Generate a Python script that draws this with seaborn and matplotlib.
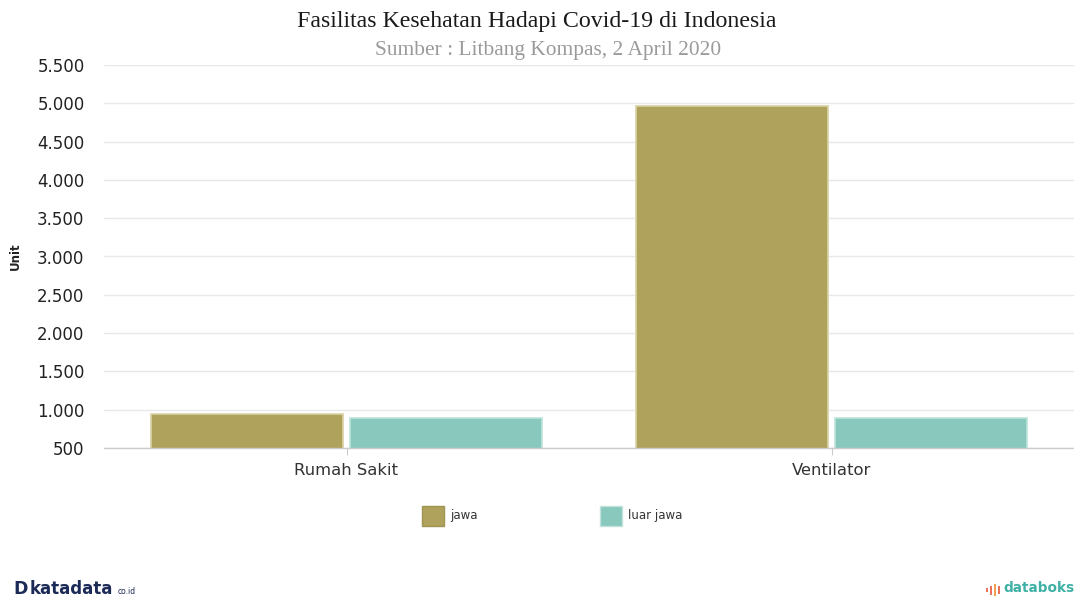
import matplotlib
matplotlib.use("Agg")
import matplotlib.pyplot as plt
import seaborn as sns
import pandas as pd
from matplotlib.patches import Rectangle

# Data
categories = ["Rumah Sakit", "Ventilator"]
series_names = ["jawa", "luar jawa"]
jawa = [945, 4960]
luar_jawa = [895, 895]
y_ticks = [500, 1000, 1500, 2000, 2500, 3000, 3500, 4000, 4500, 5000, 5500]

colors = {"jawa": "#AFA25C", "luar jawa": "#89C8BC"}
edges = {"jawa": "#D9D1A4", "luar jawa": "#BFE3DB"}

df = pd.DataFrame({
    "kategori": categories * 2,
    "seri": [series_names[0]] * 2 + [series_names[1]] * 2,
    "nilai": jawa + luar_jawa,
})

sns.set_theme(style="white")
plt.rcParams["font.family"] = ["DejaVu Sans"]

fig = plt.figure(figsize=(10.74, 5.98), dpi=100)
ax = fig.add_axes([104 / 1074, 1 - 448 / 598, 970 / 1074, (448 - 65) / 598])

sns.barplot(data=df, x="kategori", y="nilai", hue="seri", order=categories,
            hue_order=series_names, palette=colors, width=0.82, gap=0.035,
            saturation=1, legend=False, ax=ax, bottom=0)

for patch, s in zip(ax.patches, [series_names[0]] * 2 + [series_names[1]] * 2):
    patch.set_edgecolor(edges[s])
    patch.set_linewidth(1.2)

ax.set_ylim(500, 5500)
ax.set_xlim(-0.5, 1.5)
ax.set_yticks(y_ticks)
ax.set_yticklabels([f"{v:,}".replace(",", ".") for v in y_ticks], fontsize=12, color="#222222")
ax.tick_params(axis="y", length=0, pad=14)
ax.tick_params(axis="x", length=5, width=0.8, color="#cccccc", labelsize=11.8,
               labelcolor="#333333", pad=6, bottom=True)
ax.set_xlabel("")
ax.set_ylabel("Unit", fontsize=8.5, fontweight="bold", color="#222222")
ax.yaxis.set_label_coords(-0.085, 0.5)

ax.grid(axis="y", color="#e8e8e8", linewidth=1)
ax.set_axisbelow(True)
for side in ["top", "right", "left"]:
    ax.spines[side].set_visible(False)
ax.spines["bottom"].set_color("#cccccc")
ax.spines["bottom"].set_linewidth(1)

# Title and subtitle
fig.text(537 / 1074, 1 - 22 / 598, "Fasilitas Kesehatan Hadapi Covid-19 di Indonesia",
         ha="center", va="center", fontsize=17.2, family="Liberation Serif", color="#1a1a1a")
fig.text(548 / 1074, 1 - 51 / 598, "Sumber : Litbang Kompas, 2 April 2020",
         ha="center", va="center", fontsize=15.4, family="Liberation Serif", color="#9a9a9a")

# Legend
lx = [422, 600]
for x0, s in zip(lx, series_names):
    fig.patches.append(Rectangle((x0 / 1074, 1 - 526 / 598), 22 / 1074, 20 / 598,
                                 transform=fig.transFigure, facecolor=colors[s],
                                 edgecolor=edges[s] if s == "luar jawa" else "#A09550",
                                 linewidth=1))
    fig.text((x0 + 28) / 1074, 1 - 516 / 598, s, ha="left", va="center",
             fontsize=8.5, color="#333333")

# Footer marks
fig.text(13 / 1074, 1 - 589 / 598, "D", ha="left", va="center", fontsize=12.5,
         fontweight="bold", color="#1B2A56")
fig.text(30 / 1074, 1 - 589 / 598, "katadata", ha="left", va="center", fontsize=12,
         fontweight="bold", color="#1B2A56")
fig.text(118 / 1074, 1 - 592 / 598, "co.id", ha="left", va="center", fontsize=5.5,
         color="#1B2A56")

# databoks icon: small bars
icon = [(986, 4, "#E8735A"), (990, 9, "#E8735A"), (994, 12, "#F0A050"),
        (998, 8, "#E8735A")]
for x0, h, c in icon:
    fig.patches.append(Rectangle((x0 / 1074, 1 - (590 + h / 2) / 598), 2.2 / 1074, h / 598,
                                 transform=fig.transFigure, facecolor=c, edgecolor="none"))
fig.text(1003 / 1074, 1 - 588 / 598, "databoks", ha="left", va="center", fontsize=9.8,
         fontweight="bold", color="#3FB0A6")

fig.savefig("out.png", dpi=100)
